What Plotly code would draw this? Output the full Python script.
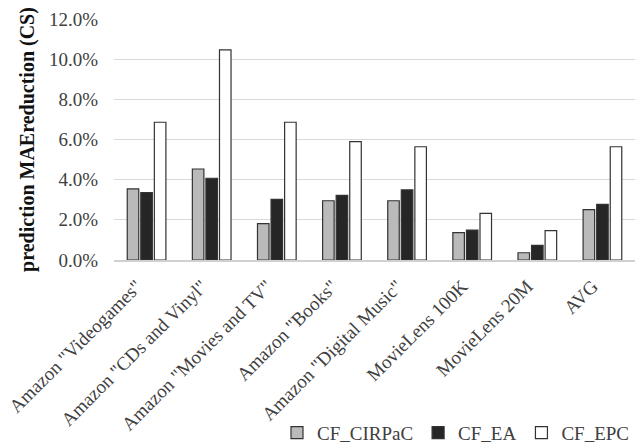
import plotly.graph_objects as go

categories = ['Amazon "Videogames"', 'Amazon "CDs and Vinyl"', 'Amazon "Movies and TV"',
              'Amazon "Books"', 'Amazon "Digital Music"', 'MovieLens 100K', 'MovieLens 20M', 'AVG']
cf_cirpac = [3.54, 4.53, 1.81, 2.95, 2.95, 1.36, 0.36, 2.51]
cf_ea = [3.35, 4.07, 3.02, 3.22, 3.49, 1.49, 0.73, 2.77]
cf_epc = [6.86, 10.46, 6.86, 5.89, 5.64, 2.32, 1.46, 5.64]
y_ticks = [0, 2, 4, 6, 8, 10, 12]
y_tick_labels = ["0.0%", "2.0%", "4.0%", "6.0%", "8.0%", "10.0%", "12.0%"]

FONT = "Liberation Serif"
outline = dict(color="#333333", width=1.2)

fig = go.Figure()
fig.add_bar(name="CF_CIRPaC", x=categories, y=cf_cirpac, marker=dict(color="#bababa", line=outline))
fig.add_bar(name="CF_EA", x=categories, y=cf_ea, marker=dict(color="#262626", line=outline))
fig.add_bar(name="CF_EPC", x=categories, y=cf_epc, marker=dict(color="#ffffff", line=outline))

fig.update_layout(
    width=635, height=452,
    margin=dict(l=114, r=0, t=19, b=192),
    paper_bgcolor="white", plot_bgcolor="white",
    font=dict(family=FONT, size=19, color="#404040"),
    barmode="group", bargap=0.375, bargroupgap=0.15,
    legend=dict(orientation="h", x=1.0, xanchor="right", y=-0.796, yanchor="bottom",
                font=dict(family=FONT, size=19, color="#404040"), itemwidth=30, traceorder="normal",
                tracegroupgap=0),
    showlegend=True,
)
fig.update_yaxes(range=[0, 12], tickvals=y_ticks, ticktext=y_tick_labels,
                 showgrid=True, gridcolor="#d9d9d9", gridwidth=1, zeroline=False,
                 tickfont=dict(family=FONT, size=19, color="#404040"), ticklabelstandoff=15,
                 title=dict(text="<b>prediction MAEreduction (CS)</b>",
                            font=dict(family=FONT, size=20, color="#111111"), standoff=8),
                 automargin=False, fixedrange=True)
fig.update_xaxes(tickangle=-45, tickfont=dict(family=FONT, size=19, color="#404040"),
                 ticklabelshift=-10, ticklabelstandoff=6,
                 showline=True, linecolor="#d0d0d0", linewidth=1.5, showgrid=False,
                 automargin=False, fixedrange=True)

fig.write_html("out.html", config={"displayModeBar": False},
               post_script="document.body.style.margin='0';document.body.style.overflow='hidden';")
